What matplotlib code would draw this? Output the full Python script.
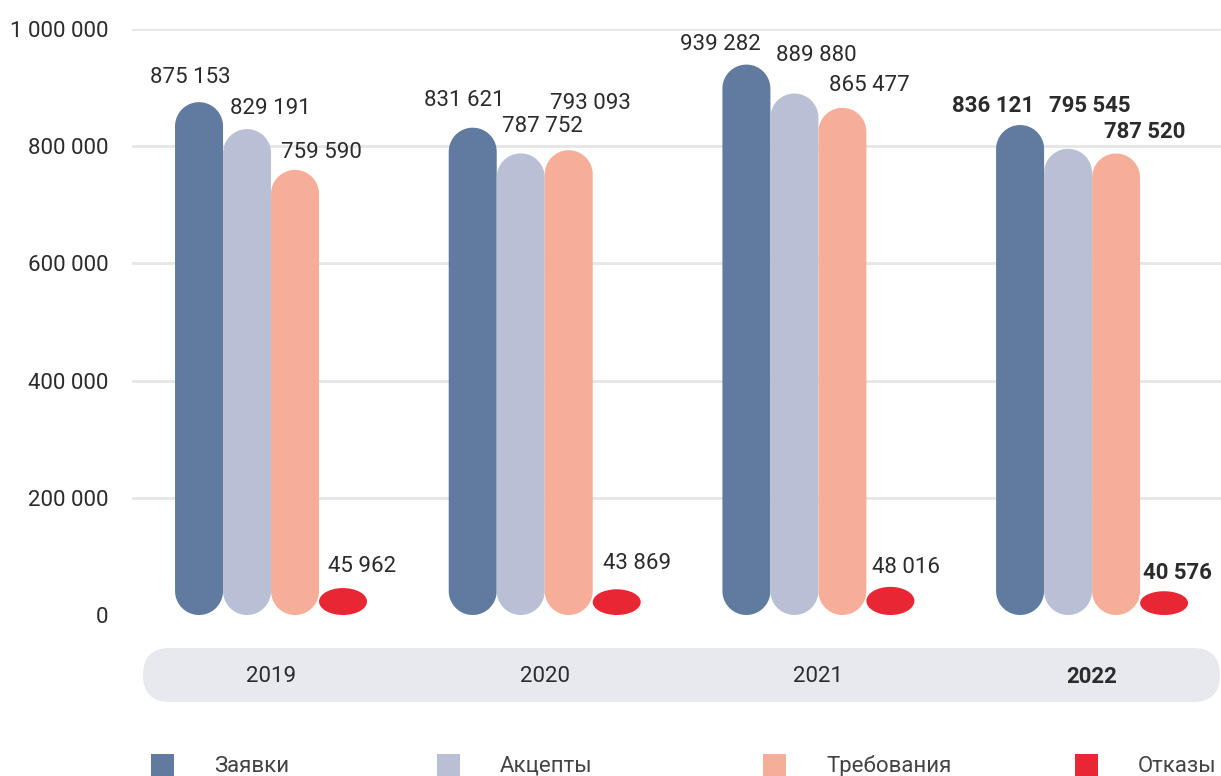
import numpy as np
import matplotlib.pyplot as plt
from matplotlib.patches import FancyBboxPatch, Ellipse, Rectangle, Polygon, BoxStyle

plt.rcParams['font.family'] = ['Roboto', 'DejaVu Sans']

years = ['2019', '2020', '2021', '2022']
series = ['Заявки', 'Акцепты', 'Требования', 'Отказы']
values = {
    'Заявки':     [875153, 831621, 939282, 836121],
    'Акцепты':    [829191, 787752, 889880, 795545],
    'Требования': [759590, 793093, 865477, 787520],
    'Отказы':     [45962, 43869, 48016, 40576],
}
colors = ['#617a9f', '#b9c0d5', '#f7ae99', '#e92633']
yticks = [0, 200000, 400000, 600000, 800000, 1000000]

# label nudges in pixels (dx, dy above bar top)
label_dx = [[-9, -8, -26, -27], [23, 22, 22, 22], [26, 22, 27, 29], [19, 20, 16, 13]]
label_dy = [[25, 27, 20, 19], [21, 27, 38, 43], [17, 47, 22, 22], [22, 26, 19, 18]]

W, H = 1221, 776
fig = plt.figure(figsize=(W / 100, H / 100), dpi=100)
ax = fig.add_axes([132 / W, (H - 615) / H, 1 - 132 / W, (615 - 29) / H])
ax.patch.set_visible(False)

xlim = (-0.508, 3.471)
ylim = (0, 1000000)
ax.set_xlim(*xlim)
ax.set_ylim(*ylim)
for s in ax.spines.values():
    s.set_visible(False)

ax_w = W * (1 - 132 / W)
ax_h = 615 - 29
xpp = (xlim[1] - xlim[0]) / ax_w   # data x per pixel
ypp = (ylim[1] - ylim[0]) / ax_h   # data y per pixel


def pill(xc, v, w, color):
    r = w / 2                      # radius in x units
    ry = (w / 2) / xpp * ypp       # same radius in y units
    if v < 2 * ry:
        return Ellipse((xc, v / 2), w, v, color=color, lw=0, zorder=2)
    t = np.linspace(0, np.pi, 40)
    top = np.column_stack([xc + r * np.cos(t), v - ry + ry * np.sin(t)])
    bot = np.column_stack([xc - r * np.cos(t), ry - ry * np.sin(t)])
    return Polygon(np.vstack([top, bot]), closed=True, color=color, lw=0, zorder=2)


for t in yticks[1:]:
    ax.axhline(t, color='#e6e6e6', lw=2, zorder=0)

bw = 48 * xpp
txt = '#2b2b2b'
for i, name in enumerate(series):
    for j, v in enumerate(values[name]):
        xc = j + (i - 1.5) * bw
        ax.add_patch(pill(xc, v, bw, colors[i]))
        bold = j == len(years) - 1
        ax.text(xc + label_dx[i][j] * xpp, v + label_dy[i][j] * ypp,
                f'{v:,}'.replace(',', ' '), ha='center', va='center',
                fontsize=16, color=txt, fontweight='bold' if bold else 'normal')

ax.set_yticks(yticks)
ax.set_yticklabels([f'{t:,}'.replace(',', ' ') for t in yticks], fontsize=16, color=txt)
ax.tick_params(axis='y', length=0, pad=17)
ax.set_xticks(range(len(years)))
ax.set_xticklabels(years, fontsize=16, color=txt)
ax.tick_params(axis='x', length=0, pad=37)
ax.get_xticklabels()[-1].set_fontweight('bold')

# year band
band = FancyBboxPatch((143 / W, (H - 702) / H), (1220 - 143) / W, 54 / H,
                      boxstyle=BoxStyle.Round(pad=0, rounding_size=27 / W),
                      mutation_aspect=W / H, transform=fig.transFigure,
                      color='#e8e9ee', lw=0, zorder=-5)
fig.patches.append(band)

# legend
leg_x = [151, 437, 763, 1075]
for i, name in enumerate(series):
    fig.patches.append(Rectangle((leg_x[i] / W, (H - 777) / H), 23 / W, 23 / H,
                                 transform=fig.transFigure, color=colors[i], lw=0))
    fig.text((leg_x[i] + 63) / W, (H - 766) / H, name, fontsize=16,
             color='#444444', va='center', ha='left')

fig.savefig('out.png', dpi=100)
